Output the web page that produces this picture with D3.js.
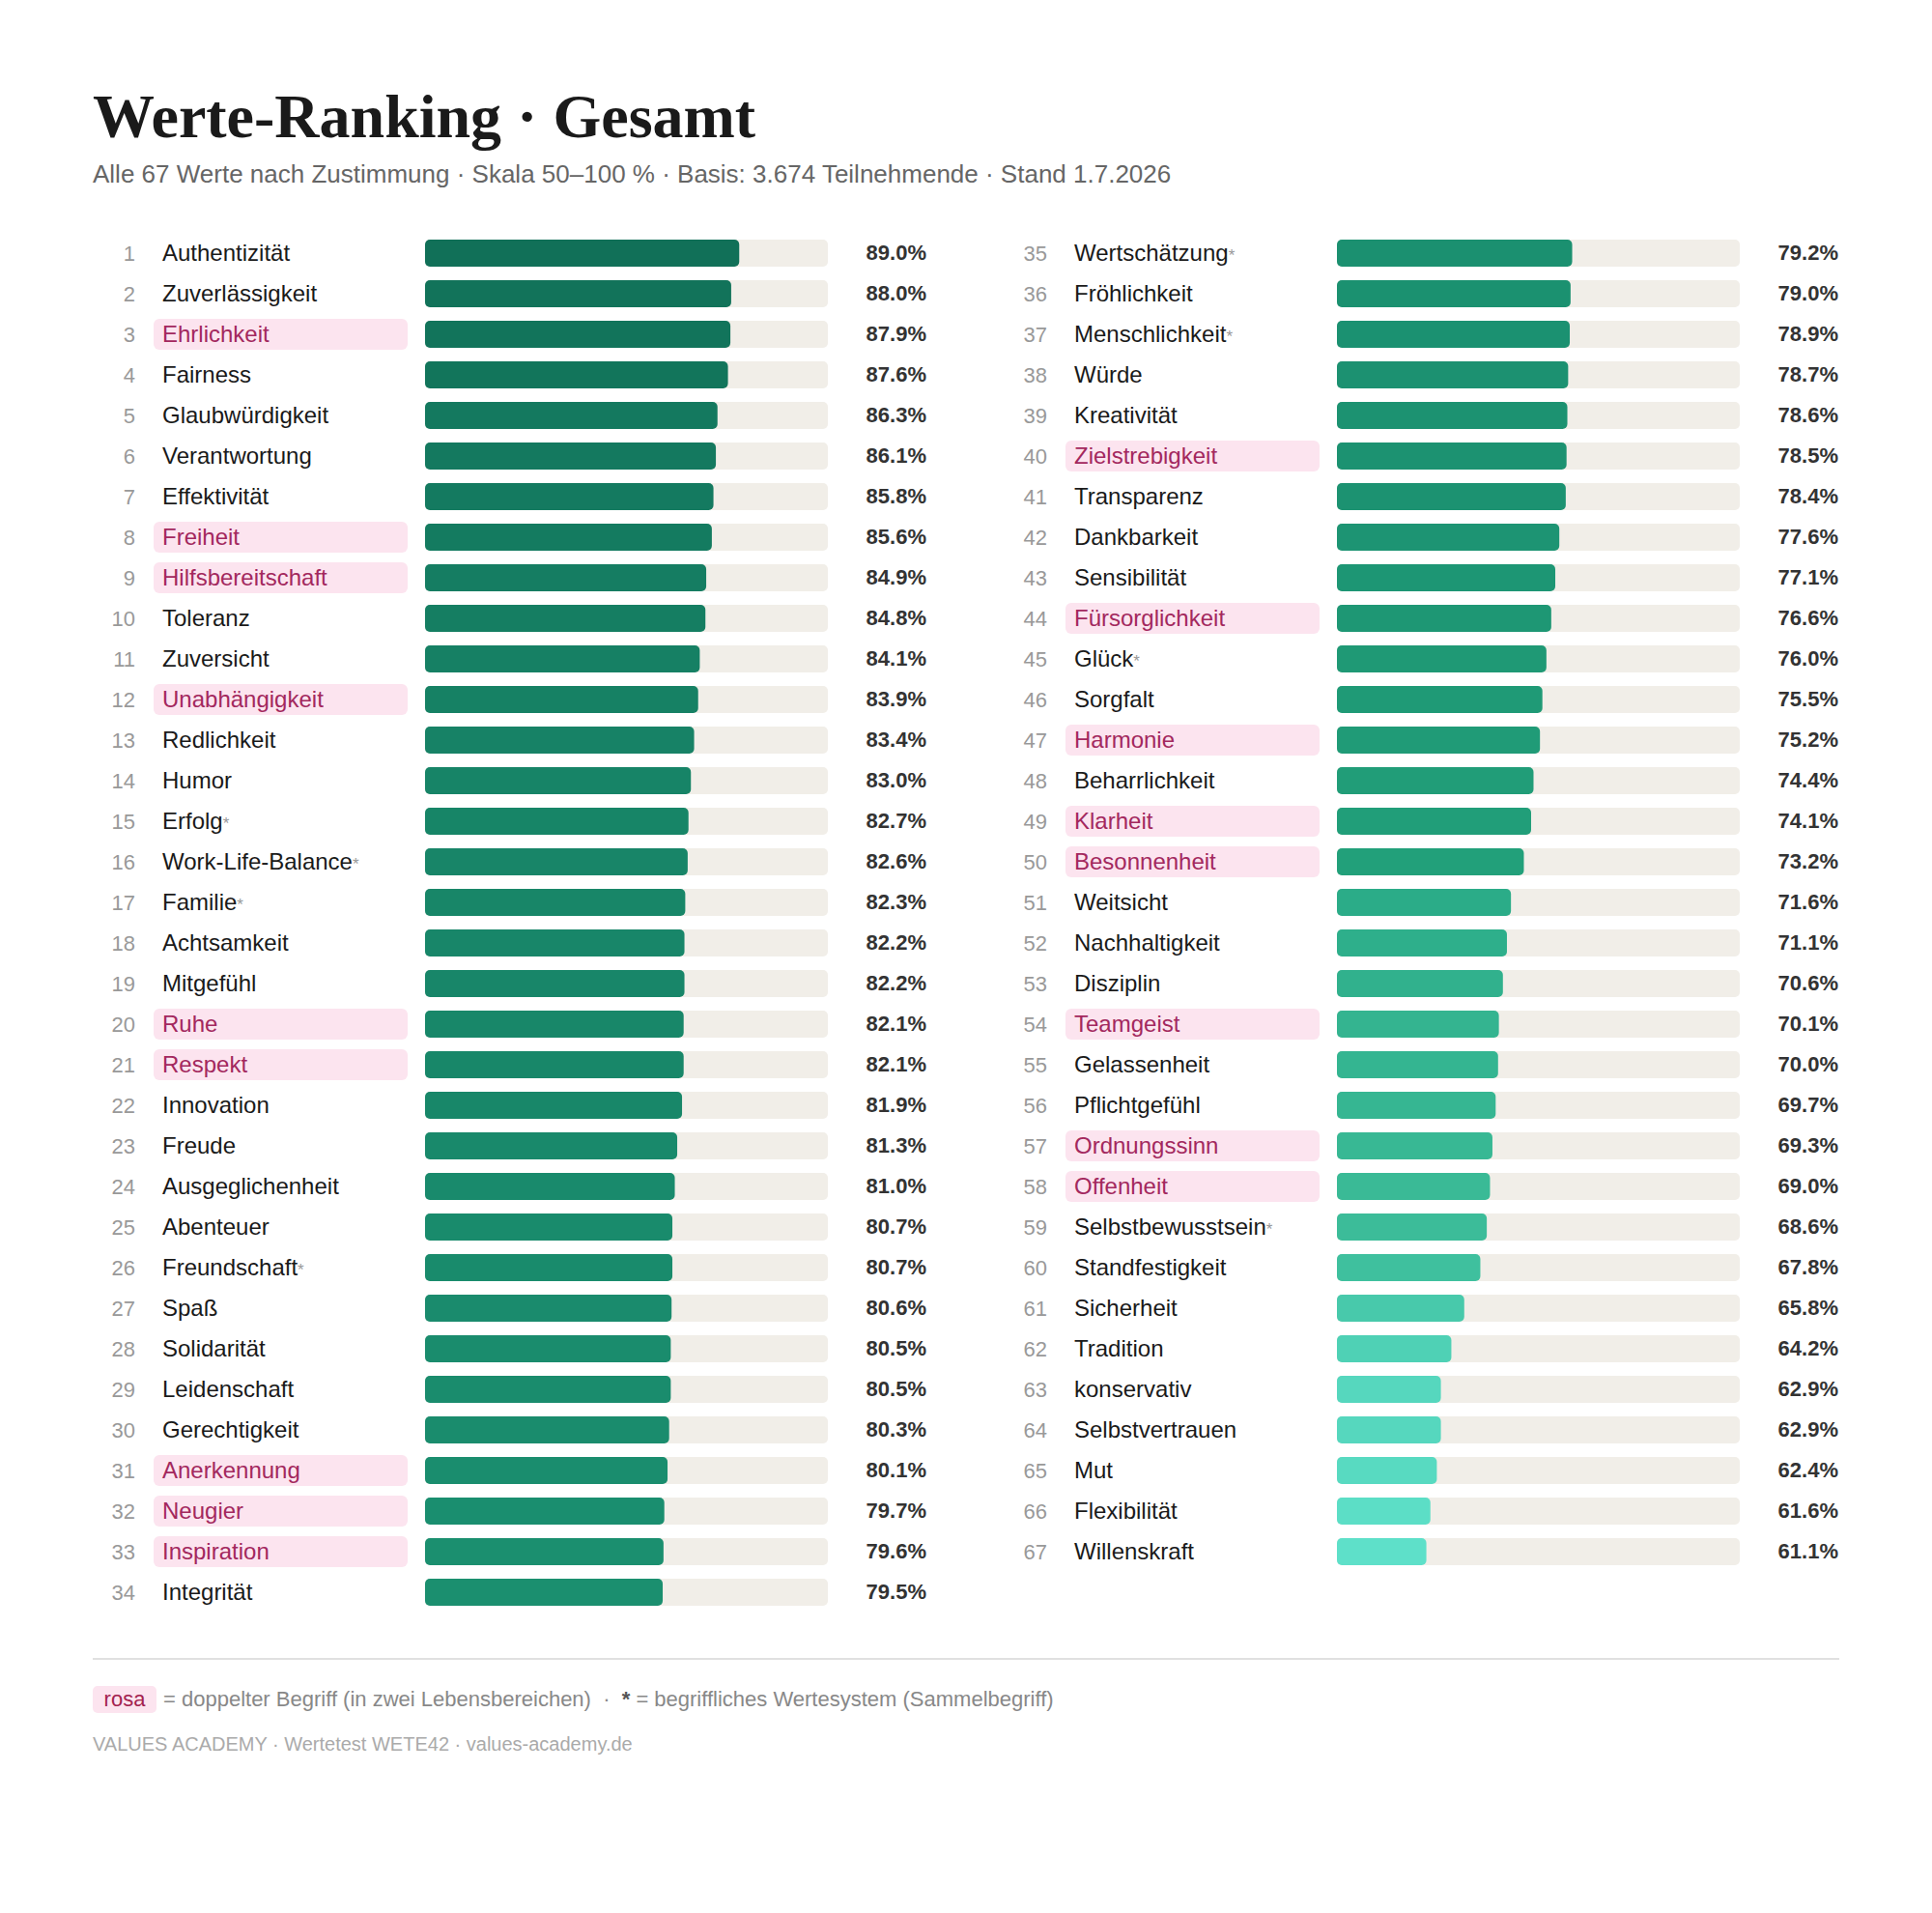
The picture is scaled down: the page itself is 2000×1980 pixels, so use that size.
<!DOCTYPE html>
<html lang="de">
<head>
<meta charset="UTF-8">
<title>Werte-Ranking · Gesamt</title>
<script src="https://d3js.org/d3.v7.min.js"></script>
<style>
  body { margin: 0; background: #fff; }
  text { font-family: "Liberation Sans", Arial, sans-serif; }
</style>
</head>
<body>
<div id="container"></div>
<script>
// Werte, Reihenfolge = Rang
const names = [
  "Authentizität", "Zuverlässigkeit", "Ehrlichkeit", "Fairness", "Glaubwürdigkeit",
  "Verantwortung", "Effektivität", "Freiheit", "Hilfsbereitschaft", "Toleranz",
  "Zuversicht", "Unabhängigkeit", "Redlichkeit", "Humor", "Erfolg",
  "Work-Life-Balance", "Familie", "Achtsamkeit", "Mitgefühl", "Ruhe",
  "Respekt", "Innovation", "Freude", "Ausgeglichenheit", "Abenteuer",
  "Freundschaft", "Spaß", "Solidarität", "Leidenschaft", "Gerechtigkeit",
  "Anerkennung", "Neugier", "Inspiration", "Integrität", "Wertschätzung",
  "Fröhlichkeit", "Menschlichkeit", "Würde", "Kreativität", "Zielstrebigkeit",
  "Transparenz", "Dankbarkeit", "Sensibilität", "Fürsorglichkeit", "Glück",
  "Sorgfalt", "Harmonie", "Beharrlichkeit", "Klarheit", "Besonnenheit",
  "Weitsicht", "Nachhaltigkeit", "Disziplin", "Teamgeist", "Gelassenheit",
  "Pflichtgefühl", "Ordnungssinn", "Offenheit", "Selbstbewusstsein", "Standfestigkeit",
  "Sicherheit", "Tradition", "konservativ", "Selbstvertrauen", "Mut",
  "Flexibilität", "Willenskraft"
];
const values = [
  89.0, 88.0, 87.9, 87.6, 86.3, 86.1, 85.8, 85.6, 84.9, 84.8,
  84.1, 83.9, 83.4, 83.0, 82.7, 82.6, 82.3, 82.2, 82.2, 82.1,
  82.1, 81.9, 81.3, 81.0, 80.7, 80.7, 80.6, 80.5, 80.5, 80.3,
  80.1, 79.7, 79.6, 79.5, 79.2, 79.0, 78.9, 78.7, 78.6, 78.5,
  78.4, 77.6, 77.1, 76.6, 76.0, 75.5, 75.2, 74.4, 74.1, 73.2,
  71.6, 71.1, 70.6, 70.1, 70.0, 69.7, 69.3, 69.0, 68.6, 67.8,
  65.8, 64.2, 62.9, 62.9, 62.4, 61.6, 61.1
];
// rosa = doppelter Begriff, * = Sammelbegriff
const doubled = ["Ehrlichkeit", "Freiheit", "Hilfsbereitschaft", "Unabhängigkeit", "Ruhe",
  "Respekt", "Anerkennung", "Neugier", "Inspiration", "Zielstrebigkeit", "Fürsorglichkeit",
  "Harmonie", "Klarheit", "Besonnenheit", "Teamgeist", "Ordnungssinn", "Offenheit"];
const starred = ["Erfolg", "Work-Life-Balance", "Familie", "Freundschaft", "Wertschätzung",
  "Menschlichkeit", "Glück", "Selbstbewusstsein"];
const scaleDomain = [50, 100];

const width = 2000, height = 1980;
const left = 96, colWidth = 944, perCol = 34;
const rowTop = 262, rowStep = 42;
const trackX = 344, trackW = 417, barH = 28;

const rows = names.map((n, i) => ({
  rank: i + 1, name: n, value: values[i],
  pink: doubled.includes(n), star: starred.includes(n),
  col: Math.floor(i / perCol), row: i % perCol
}));

const x = d3.scaleLinear().domain(scaleDomain).range([0, trackW]);
const y = d3.scaleLinear().domain([0, perCol - 1]).range([rowTop, rowTop + (perCol - 1) * rowStep]);
const color = d3.scaleLinear()
  .domain([61.1, 65.8, 69.0, 71.6, 73.2, 79.2, 89.0])
  .range(["#5ee0c9", "#48c9ab", "#3aba96", "#2bac88", "#22a07a", "#1b9070", "#117058"]);

const svg = d3.select("#container").append("svg")
  .attr("width", width).attr("height", height);

svg.append("text")
  .attr("x", left).attr("y", 142)
  .style("font-family", "'Liberation Serif', 'Times New Roman', serif")
  .attr("font-weight", "bold").attr("font-size", 64).attr("fill", "#1a1a1a")
  .text("Werte-Ranking · Gesamt");

svg.append("text")
  .attr("x", left).attr("y", 189)
  .attr("font-size", 26).attr("fill", "#666")
  .text("Alle 67 Werte nach Zustimmung · Skala 50–100 % · Basis: 3.674 Teilnehmende · Stand 1.7.2026");

const row = svg.append("g").selectAll("g")
  .data(rows)
  .join("g")
    .attr("transform", d => `translate(${left + d.col * colWidth},${y(d.row)})`);

row.filter(d => d.pink).append("rect")
  .attr("x", 63).attr("y", -16).attr("width", 263).attr("height", 32)
  .attr("rx", 6).attr("fill", "#fce4ef");

row.append("text")
  .attr("x", 44).attr("dy", "0.35em").attr("text-anchor", "end")
  .attr("font-size", 22).attr("fill", "#999")
  .text(d => d.rank);

const label = row.append("text")
  .attr("x", 72).attr("dy", "0.35em")
  .attr("font-size", 24).attr("fill", d => d.pink ? "#a3285e" : "#1a1a1a");
label.append("tspan").text(d => d.name);
label.filter(d => d.star).append("tspan")
  .attr("font-size", 17).attr("fill", "#999").text("*");

row.append("rect")
  .attr("x", trackX).attr("y", -barH / 2).attr("width", trackW).attr("height", barH)
  .attr("rx", 5).attr("fill", "#f1eee8");

row.append("rect")
  .attr("x", trackX).attr("y", -barH / 2).attr("width", d => x(d.value)).attr("height", barH)
  .attr("rx", 5).attr("fill", d => color(d.value));

row.append("text")
  .attr("x", 863).attr("dy", "0.32em").attr("text-anchor", "end")
  .attr("font-size", 22).attr("font-weight", "bold").attr("fill", "#333")
  .text(d => d.value.toFixed(1) + "%");

svg.append("line")
  .attr("x1", left).attr("x2", 1904).attr("y1", 1717).attr("y2", 1717)
  .attr("stroke", "#e0e0e0").attr("stroke-width", 2);

// Legende
svg.append("rect")
  .attr("x", left).attr("y", 1745).attr("width", 66).attr("height", 28)
  .attr("rx", 5).attr("fill", "#fce4ef");
svg.append("text")
  .attr("x", left + 33).attr("y", 1766).attr("text-anchor", "middle")
  .attr("font-size", 22).attr("fill", "#a3224f").text("rosa");
const legend = svg.append("text")
  .attr("x", 169).attr("y", 1766).attr("font-size", 22).attr("fill", "#888")
  .style("white-space", "pre");
legend.append("tspan").text("= doppelter Begriff (in zwei Lebensbereichen)  ·  ");
legend.append("tspan").attr("font-weight", "bold").attr("fill", "#555").text("*");
legend.append("tspan").text(" = begriffliches Wertesystem (Sammelbegriff)");

svg.append("text")
  .attr("x", left).attr("y", 1812)
  .attr("font-size", 20).attr("fill", "#aaa")
  .text("VALUES ACADEMY · Wertetest WETE42 · values-academy.de");
</script>
</body>
</html>
